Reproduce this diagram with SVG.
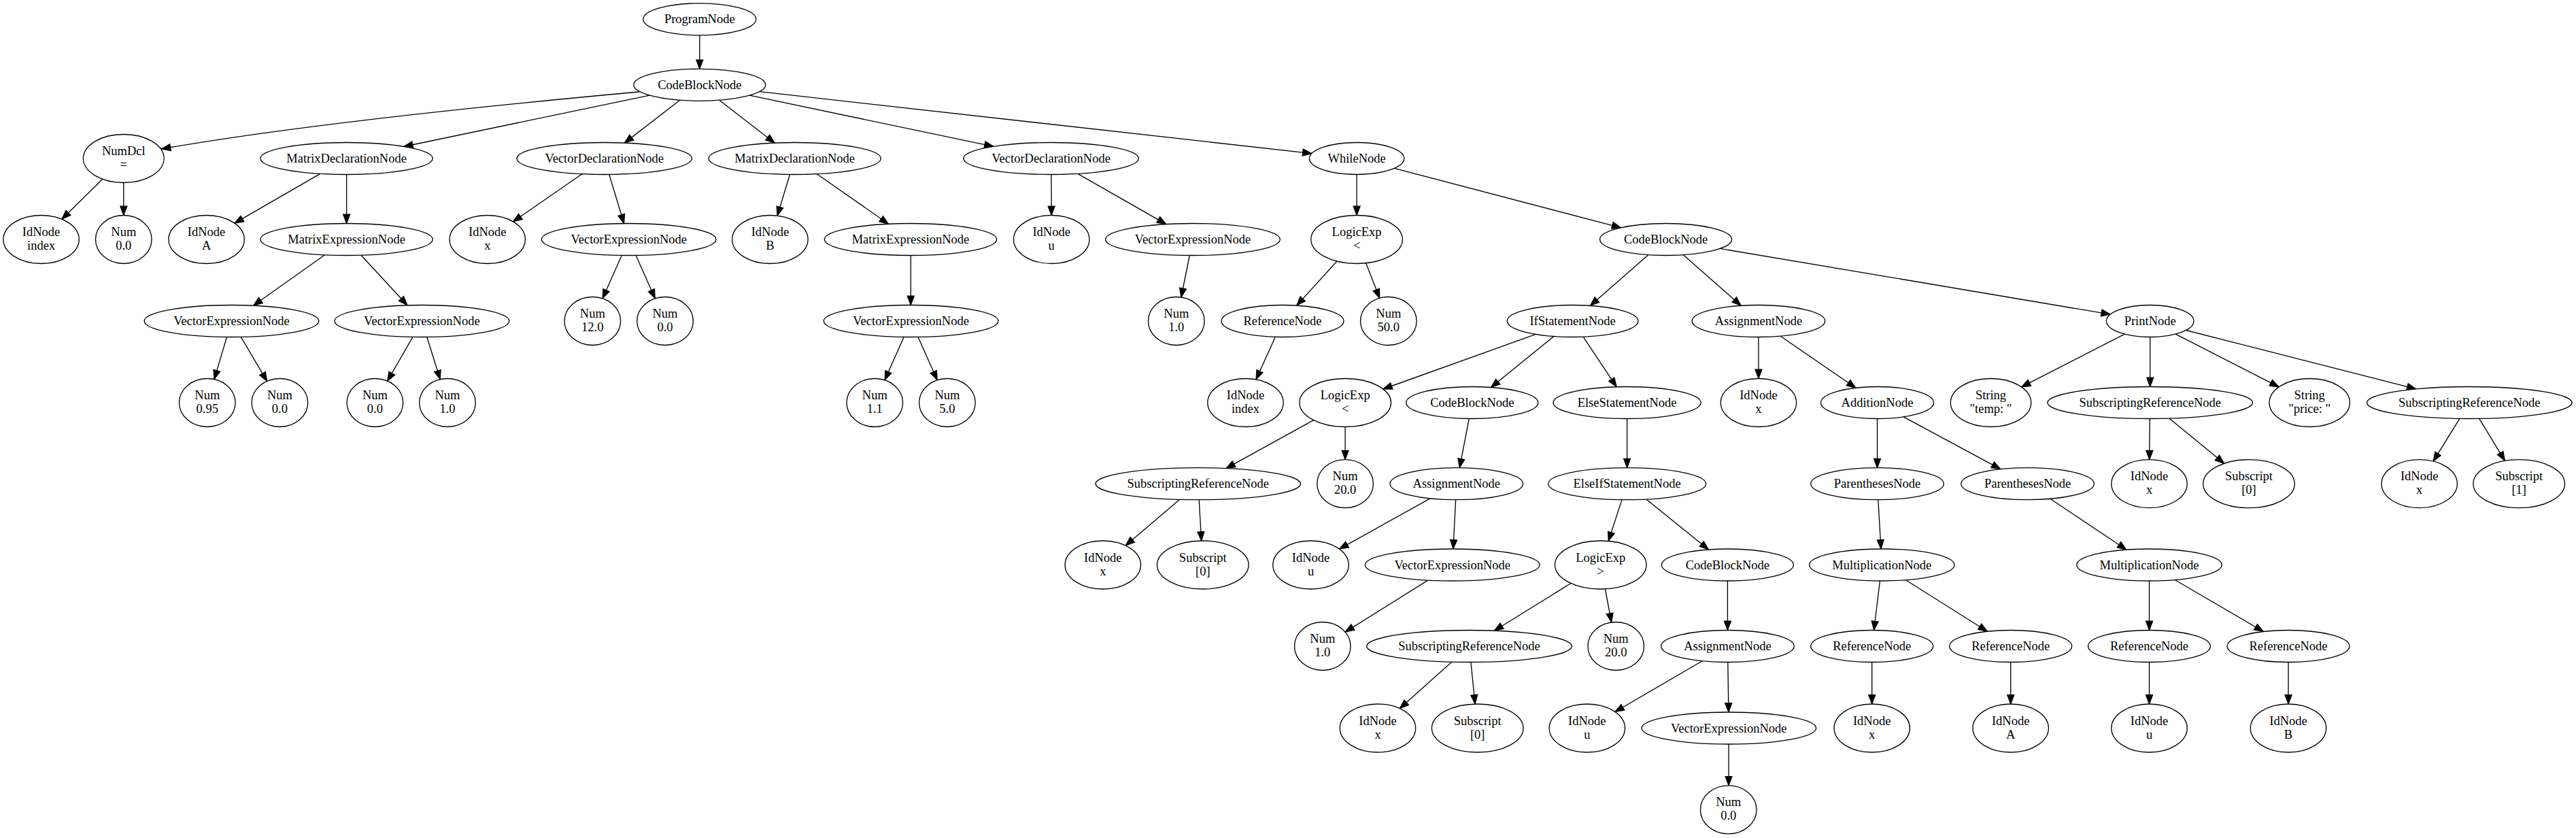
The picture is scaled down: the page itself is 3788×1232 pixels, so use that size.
<svg xmlns="http://www.w3.org/2000/svg" width="3788" height="1232" viewBox="0 0 3788 1232">
<style>
.nd ellipse{fill:#fff;stroke:#000;stroke-width:1.33}
.nd text{font-family:"Liberation Serif","Times New Roman",serif;font-size:18.5px;text-anchor:middle;fill:#000}
#edges path{fill:none;stroke:#000;stroke-width:1.33;marker-end:url(#arr)}
</style>
<defs>
<marker id="arr" markerUnits="userSpaceOnUse" markerWidth="16" markerHeight="12" refX="13.3" refY="5" orient="auto" overflow="visible">
<path d="M0,0 L13.3,5 L0,10 z" fill="#000" stroke="#000" stroke-width="1.2"/>
</marker>
</defs>
<rect width="3788" height="1232" fill="#fff"/>
<g id="edges">
<path d="M1028.8,51.8 L1028.8,101.3"/>
<path d="M940,135 Q470,178 237.5,219"/>
<path d="M955.3,140.1 L593.8,215.5"/>
<path d="M999.8,147.2 L918.3,210.1"/>
<path d="M1057.8,147.2 L1139.2,210.2"/>
<path d="M1102.2,140.2 L1461,215.3"/>
<path d="M1116.9,134.7 L1928.9,225.6"/>
<path d="M150.9,263.3 L90.9,322.2"/>
<path d="M181.8,268.5 L181.8,316.5"/>
<path d="M470.9,255.4 L344.9,328.2"/>
<path d="M509.6,256.5 L509.6,328.5"/>
<path d="M855.9,255.7 L754.5,325.9"/>
<path d="M895.8,256.5 L917.6,328.5"/>
<path d="M1161.5,256.5 L1143,317.2"/>
<path d="M1201.2,255.7 L1306.5,329.3"/>
<path d="M1545.9,256.5 L1546.2,316.5"/>
<path d="M1584.8,255.4 L1714.8,329.6"/>
<path d="M1995.1,256.5 L1995.1,316.5"/>
<path d="M2050.2,247.4 L2383.7,334.8"/>
<path d="M477.6,374.7 L372.6,449.2"/>
<path d="M531,375.2 L599,448.8"/>
<path d="M914.3,375.4 L886.1,438.8"/>
<path d="M935.1,375.4 L963.3,438.8"/>
<path d="M1339.3,375.5 L1339.3,448.5"/>
<path d="M1749.3,375.5 L1736.9,437"/>
<path d="M1966,384 L1906.8,449.1"/>
<path d="M2008.6,386.8 L2028.7,438.3"/>
<path d="M2423.7,374.7 L2338.4,449.4"/>
<path d="M2475.3,374.7 L2560.2,449.3"/>
<path d="M2529.2,365.4 L3103.3,462.2"/>
<path d="M333.5,495.5 L315,557.6"/>
<path d="M354.3,495.4 L392.7,560.4"/>
<path d="M607,495.4 L569.7,560.2"/>
<path d="M627.8,495.5 L647.3,557.7"/>
<path d="M1329.2,495.4 L1301,558.8"/>
<path d="M1350,495.4 L1378.2,558.8"/>
<path d="M1875.4,495.3 L1847,557.9"/>
<path d="M2258.5,491.4 L2033.8,572"/>
<path d="M2284.9,494.5 L2192.5,569.5"/>
<path d="M2328.1,495.2 L2377.1,568.7"/>
<path d="M2585.9,495.5 L2585.9,556.5"/>
<path d="M2618.2,494.2 L2728.9,570.3"/>
<path d="M3124.4,491.1 L2972.5,568.9"/>
<path d="M3161.7,495.5 L3161.7,568.5"/>
<path d="M3199.1,491.1 L3351.1,568.9"/>
<path d="M3214.4,485.5 L3552.8,571.9"/>
<path d="M1931.7,617.6 L1802.9,688.6"/>
<path d="M1978.1,627.5 L1978.1,675.7"/>
<path d="M2160.3,615.5 L2146.3,687.7"/>
<path d="M2392.6,615.5 L2392.6,687.7"/>
<path d="M2760.5,615.5 L2760.5,687.7"/>
<path d="M2799.1,612.8 L2941.8,689.7"/>
<path d="M3161.2,615.5 L3160.7,675.7"/>
<path d="M3189.8,615.1 L3270.6,681.3"/>
<path d="M3616.9,615.4 L3578.1,678.2"/>
<path d="M3645.6,615.4 L3683.5,677.4"/>
<path d="M1734.7,734.3 L1655.2,802.1"/>
<path d="M1763.2,734.7 L1766.7,795.1"/>
<path d="M2103,732.8 L1969.5,807.1"/>
<path d="M2140.6,734.7 L2136.9,807"/>
<path d="M2385,734.6 L2365.2,795.5"/>
<path d="M2420.8,734 L2512.5,808"/>
<path d="M2761.8,734.7 L2766,807"/>
<path d="M3014.8,733.3 L3127,808.2"/>
<path d="M2099.7,853.1 L1978.2,929.1"/>
<path d="M2310.1,857.5 L2197.4,927.2"/>
<path d="M2360.4,865.8 L2369.6,914.9"/>
<path d="M2540.4,854 L2540.4,926.5"/>
<path d="M2764.4,854 L2755.6,926.5"/>
<path d="M2802.5,852.7 L2922.3,928.3"/>
<path d="M3160.5,854 L3160.5,926.5"/>
<path d="M3198.1,852.5 L3328.3,928.5"/>
<path d="M2134.7,973.2 L2058.3,1041.6"/>
<path d="M2162.9,973.5 L2169.1,1035"/>
<path d="M2503.2,971.7 L2374.9,1046.5"/>
<path d="M2540.8,973.5 L2541.9,1047"/>
<path d="M2752.7,973.5 L2752.7,1035"/>
<path d="M2956.7,973.5 L2956.7,1035"/>
<path d="M3160.5,973.5 L3160.5,1035"/>
<path d="M3365,973.5 L3365,1035"/>
<path d="M2542,1094 L2542,1154.9"/>
</g>
<g id="n0" class="nd"><ellipse cx="1028.8" cy="28.3" rx="83" ry="23.5"/><text x="1028.8" y="34.3">ProgramNode</text></g>
<g id="n1" class="nd"><ellipse cx="1028.8" cy="124.8" rx="97" ry="23.5"/><text x="1028.8" y="130.8">CodeBlockNode</text></g>
<g id="n2" class="nd"><ellipse cx="181.8" cy="233" rx="59.4" ry="35.5"/><text x="181.8" y="228">NumDcl</text><text x="181.8" y="248">=</text></g>
<g id="n3" class="nd"><ellipse cx="509.6" cy="233" rx="126.6" ry="23.5"/><text x="509.6" y="239">MatrixDeclarationNode</text></g>
<g id="n4" class="nd"><ellipse cx="888.7" cy="233" rx="128.7" ry="23.5"/><text x="888.7" y="239">VectorDeclarationNode</text></g>
<g id="n5" class="nd"><ellipse cx="1168.7" cy="233" rx="126.6" ry="23.5"/><text x="1168.7" y="239">MatrixDeclarationNode</text></g>
<g id="n6" class="nd"><ellipse cx="1545.6" cy="233" rx="128.7" ry="23.5"/><text x="1545.6" y="239">VectorDeclarationNode</text></g>
<g id="n7" class="nd"><ellipse cx="1995.1" cy="233" rx="69.7" ry="23.5"/><text x="1995.1" y="239">WhileNode</text></g>
<g id="n8" class="nd"><ellipse cx="60.6" cy="352" rx="55.7" ry="35.5"/><text x="60.6" y="347">IdNode</text><text x="60.6" y="367">index</text></g>
<g id="n9" class="nd"><ellipse cx="181.8" cy="352" rx="41.3" ry="35.5"/><text x="181.8" y="347">Num</text><text x="181.8" y="367">0.0</text></g>
<g id="n10" class="nd"><ellipse cx="303.6" cy="352" rx="55.7" ry="35.5"/><text x="303.6" y="347">IdNode</text><text x="303.6" y="367">A</text></g>
<g id="n11" class="nd"><ellipse cx="509.6" cy="352" rx="126.6" ry="23.5"/><text x="509.6" y="358">MatrixExpressionNode</text></g>
<g id="n12" class="nd"><ellipse cx="716.8" cy="352" rx="55.7" ry="35.5"/><text x="716.8" y="347">IdNode</text><text x="716.8" y="367">x</text></g>
<g id="n13" class="nd"><ellipse cx="924.7" cy="352" rx="128.3" ry="23.5"/><text x="924.7" y="358">VectorExpressionNode</text></g>
<g id="n14" class="nd"><ellipse cx="1132.4" cy="352" rx="55.7" ry="35.5"/><text x="1132.4" y="347">IdNode</text><text x="1132.4" y="367">B</text></g>
<g id="n15" class="nd"><ellipse cx="1339" cy="352" rx="126.6" ry="23.5"/><text x="1339" y="358">MatrixExpressionNode</text></g>
<g id="n16" class="nd"><ellipse cx="1546.2" cy="352" rx="55.7" ry="35.5"/><text x="1546.2" y="347">IdNode</text><text x="1546.2" y="367">u</text></g>
<g id="n17" class="nd"><ellipse cx="1754" cy="352" rx="128.3" ry="23.5"/><text x="1754" y="358">VectorExpressionNode</text></g>
<g id="n18" class="nd"><ellipse cx="1995.1" cy="352" rx="67.3" ry="35.5"/><text x="1995.1" y="347">LogicExp</text><text x="1995.1" y="367">&lt;</text></g>
<g id="n19" class="nd"><ellipse cx="2449.6" cy="352" rx="97" ry="23.5"/><text x="2449.6" y="358">CodeBlockNode</text></g>
<g id="n20" class="nd"><ellipse cx="340.5" cy="472" rx="128.3" ry="23.5"/><text x="340.5" y="478">VectorExpressionNode</text></g>
<g id="n21" class="nd"><ellipse cx="620.4" cy="472" rx="128.3" ry="23.5"/><text x="620.4" y="478">VectorExpressionNode</text></g>
<g id="n22" class="nd"><ellipse cx="871.3" cy="472" rx="41.3" ry="35.5"/><text x="871.3" y="467">Num</text><text x="871.3" y="487">12.0</text></g>
<g id="n23" class="nd"><ellipse cx="978" cy="472" rx="41.3" ry="35.5"/><text x="978" y="467">Num</text><text x="978" y="487">0.0</text></g>
<g id="n24" class="nd"><ellipse cx="1339.6" cy="472" rx="128.3" ry="23.5"/><text x="1339.6" y="478">VectorExpressionNode</text></g>
<g id="n25" class="nd"><ellipse cx="1729.8" cy="472" rx="41.3" ry="35.5"/><text x="1729.8" y="467">Num</text><text x="1729.8" y="487">1.0</text></g>
<g id="n26" class="nd"><ellipse cx="1886" cy="472" rx="90" ry="23.5"/><text x="1886" y="478">ReferenceNode</text></g>
<g id="n27" class="nd"><ellipse cx="2041.8" cy="472" rx="41.3" ry="35.5"/><text x="2041.8" y="467">Num</text><text x="2041.8" y="487">50.0</text></g>
<g id="n28" class="nd"><ellipse cx="2312.6" cy="472" rx="96.3" ry="23.5"/><text x="2312.6" y="478">IfStatementNode</text></g>
<g id="n29" class="nd"><ellipse cx="2585.9" cy="472" rx="97.8" ry="23.5"/><text x="2585.9" y="478">AssignmentNode</text></g>
<g id="n30" class="nd"><ellipse cx="3161.7" cy="472" rx="64.3" ry="23.5"/><text x="3161.7" y="478">PrintNode</text></g>
<g id="n31" class="nd"><ellipse cx="304.8" cy="592" rx="41.3" ry="35.5"/><text x="304.8" y="587">Num</text><text x="304.8" y="607">0.95</text></g>
<g id="n32" class="nd"><ellipse cx="411.4" cy="592" rx="41.3" ry="35.5"/><text x="411.4" y="587">Num</text><text x="411.4" y="607">0.0</text></g>
<g id="n33" class="nd"><ellipse cx="551.4" cy="592" rx="41.3" ry="35.5"/><text x="551.4" y="587">Num</text><text x="551.4" y="607">0.0</text></g>
<g id="n34" class="nd"><ellipse cx="658" cy="592" rx="41.3" ry="35.5"/><text x="658" y="587">Num</text><text x="658" y="607">1.0</text></g>
<g id="n35" class="nd"><ellipse cx="1286.3" cy="592" rx="41.3" ry="35.5"/><text x="1286.3" y="587">Num</text><text x="1286.3" y="607">1.1</text></g>
<g id="n36" class="nd"><ellipse cx="1392.9" cy="592" rx="41.3" ry="35.5"/><text x="1392.9" y="587">Num</text><text x="1392.9" y="607">5.0</text></g>
<g id="n37" class="nd"><ellipse cx="1831.5" cy="592" rx="55.7" ry="35.5"/><text x="1831.5" y="587">IdNode</text><text x="1831.5" y="607">index</text></g>
<g id="n38" class="nd"><ellipse cx="1978.2" cy="592" rx="67.3" ry="35.5"/><text x="1978.2" y="587">LogicExp</text><text x="1978.2" y="607">&lt;</text></g>
<g id="n39" class="nd"><ellipse cx="2164.8" cy="592" rx="97" ry="23.5"/><text x="2164.8" y="598">CodeBlockNode</text></g>
<g id="n40" class="nd"><ellipse cx="2392.6" cy="592" rx="108.5" ry="23.5"/><text x="2392.6" y="598">ElseStatementNode</text></g>
<g id="n41" class="nd"><ellipse cx="2585.9" cy="592" rx="55.7" ry="35.5"/><text x="2585.9" y="587">IdNode</text><text x="2585.9" y="607">x</text></g>
<g id="n42" class="nd"><ellipse cx="2760.5" cy="592" rx="83" ry="23.5"/><text x="2760.5" y="598">AdditionNode</text></g>
<g id="n43" class="nd"><ellipse cx="2927.5" cy="592" rx="59.2" ry="35.5"/><text x="2927.5" y="587">String</text><text x="2927.5" y="607">"temp: "</text></g>
<g id="n44" class="nd"><ellipse cx="3161.7" cy="592" rx="150.8" ry="23.5"/><text x="3161.7" y="598">SubscriptingReferenceNode</text></g>
<g id="n45" class="nd"><ellipse cx="3396.2" cy="592" rx="59.2" ry="35.5"/><text x="3396.2" y="587">String</text><text x="3396.2" y="607">"price: "</text></g>
<g id="n46" class="nd"><ellipse cx="3631.3" cy="592" rx="150.8" ry="23.5"/><text x="3631.3" y="598">SubscriptingReferenceNode</text></g>
<g id="n47" class="nd"><ellipse cx="1761.8" cy="711.2" rx="150.8" ry="23.5"/><text x="1761.8" y="717.2">SubscriptingReferenceNode</text></g>
<g id="n48" class="nd"><ellipse cx="1978.1" cy="711.2" rx="41.3" ry="35.5"/><text x="1978.1" y="706.2">Num</text><text x="1978.1" y="726.2">20.0</text></g>
<g id="n49" class="nd"><ellipse cx="2141.8" cy="711.2" rx="97.8" ry="23.5"/><text x="2141.8" y="717.2">AssignmentNode</text></g>
<g id="n50" class="nd"><ellipse cx="2392.6" cy="711.2" rx="116" ry="23.5"/><text x="2392.6" y="717.2">ElseIfStatementNode</text></g>
<g id="n51" class="nd"><ellipse cx="2760.5" cy="711.2" rx="97.8" ry="23.5"/><text x="2760.5" y="717.2">ParenthesesNode</text></g>
<g id="n52" class="nd"><ellipse cx="2981.6" cy="711.2" rx="97.8" ry="23.5"/><text x="2981.6" y="717.2">ParenthesesNode</text></g>
<g id="n53" class="nd"><ellipse cx="3160.5" cy="711.2" rx="55.7" ry="35.5"/><text x="3160.5" y="706.2">IdNode</text><text x="3160.5" y="726.2">x</text></g>
<g id="n54" class="nd"><ellipse cx="3307" cy="711.2" rx="67.3" ry="35.5"/><text x="3307" y="706.2">Subscript</text><text x="3307" y="726.2">[0]</text></g>
<g id="n55" class="nd"><ellipse cx="3557.7" cy="711.2" rx="55.7" ry="35.5"/><text x="3557.7" y="706.2">IdNode</text><text x="3557.7" y="726.2">x</text></g>
<g id="n56" class="nd"><ellipse cx="3704.2" cy="711.2" rx="67.3" ry="35.5"/><text x="3704.2" y="706.2">Subscript</text><text x="3704.2" y="726.2">[1]</text></g>
<g id="n57" class="nd"><ellipse cx="1621.8" cy="830.5" rx="55.7" ry="35.5"/><text x="1621.8" y="825.5">IdNode</text><text x="1621.8" y="845.5">x</text></g>
<g id="n58" class="nd"><ellipse cx="1768.8" cy="830.5" rx="67.3" ry="35.5"/><text x="1768.8" y="825.5">Subscript</text><text x="1768.8" y="845.5">[0]</text></g>
<g id="n59" class="nd"><ellipse cx="1927.5" cy="830.5" rx="55.7" ry="35.5"/><text x="1927.5" y="825.5">IdNode</text><text x="1927.5" y="845.5">u</text></g>
<g id="n60" class="nd"><ellipse cx="2135.7" cy="830.5" rx="128.3" ry="23.5"/><text x="2135.7" y="836.5">VectorExpressionNode</text></g>
<g id="n61" class="nd"><ellipse cx="2353.8" cy="830.5" rx="67.3" ry="35.5"/><text x="2353.8" y="825.5">LogicExp</text><text x="2353.8" y="845.5">&gt;</text></g>
<g id="n62" class="nd"><ellipse cx="2540.4" cy="830.5" rx="97" ry="23.5"/><text x="2540.4" y="836.5">CodeBlockNode</text></g>
<g id="n63" class="nd"><ellipse cx="2767.3" cy="830.5" rx="106.7" ry="23.5"/><text x="2767.3" y="836.5">MultiplicationNode</text></g>
<g id="n64" class="nd"><ellipse cx="3160.5" cy="830.5" rx="106.7" ry="23.5"/><text x="3160.5" y="836.5">MultiplicationNode</text></g>
<g id="n65" class="nd"><ellipse cx="1944.8" cy="950" rx="41.3" ry="35.5"/><text x="1944.8" y="945">Num</text><text x="1944.8" y="965">1.0</text></g>
<g id="n66" class="nd"><ellipse cx="2160.5" cy="950" rx="150.8" ry="23.5"/><text x="2160.5" y="956">SubscriptingReferenceNode</text></g>
<g id="n67" class="nd"><ellipse cx="2376.2" cy="950" rx="41.3" ry="35.5"/><text x="2376.2" y="945">Num</text><text x="2376.2" y="965">20.0</text></g>
<g id="n68" class="nd"><ellipse cx="2540.4" cy="950" rx="97.8" ry="23.5"/><text x="2540.4" y="956">AssignmentNode</text></g>
<g id="n69" class="nd"><ellipse cx="2752.7" cy="950" rx="90" ry="23.5"/><text x="2752.7" y="956">ReferenceNode</text></g>
<g id="n70" class="nd"><ellipse cx="2956.7" cy="950" rx="90" ry="23.5"/><text x="2956.7" y="956">ReferenceNode</text></g>
<g id="n71" class="nd"><ellipse cx="3160.5" cy="950" rx="90" ry="23.5"/><text x="3160.5" y="956">ReferenceNode</text></g>
<g id="n72" class="nd"><ellipse cx="3365" cy="950" rx="90" ry="23.5"/><text x="3365" y="956">ReferenceNode</text></g>
<g id="n73" class="nd"><ellipse cx="2026" cy="1070.5" rx="55.7" ry="35.5"/><text x="2026" y="1065.5">IdNode</text><text x="2026" y="1085.5">x</text></g>
<g id="n74" class="nd"><ellipse cx="2172.7" cy="1070.5" rx="67.3" ry="35.5"/><text x="2172.7" y="1065.5">Subscript</text><text x="2172.7" y="1085.5">[0]</text></g>
<g id="n75" class="nd"><ellipse cx="2333.8" cy="1070.5" rx="55.7" ry="35.5"/><text x="2333.8" y="1065.5">IdNode</text><text x="2333.8" y="1085.5">u</text></g>
<g id="n76" class="nd"><ellipse cx="2542.3" cy="1070.5" rx="128.3" ry="23.5"/><text x="2542.3" y="1076.5">VectorExpressionNode</text></g>
<g id="n77" class="nd"><ellipse cx="2752.7" cy="1070.5" rx="55.7" ry="35.5"/><text x="2752.7" y="1065.5">IdNode</text><text x="2752.7" y="1085.5">x</text></g>
<g id="n78" class="nd"><ellipse cx="2956.7" cy="1070.5" rx="55.7" ry="35.5"/><text x="2956.7" y="1065.5">IdNode</text><text x="2956.7" y="1085.5">A</text></g>
<g id="n79" class="nd"><ellipse cx="3160.5" cy="1070.5" rx="55.7" ry="35.5"/><text x="3160.5" y="1065.5">IdNode</text><text x="3160.5" y="1085.5">u</text></g>
<g id="n80" class="nd"><ellipse cx="3365" cy="1070.5" rx="55.7" ry="35.5"/><text x="3365" y="1065.5">IdNode</text><text x="3365" y="1085.5">B</text></g>
<g id="n81" class="nd"><ellipse cx="2541.7" cy="1190.4" rx="41.3" ry="35.5"/><text x="2541.7" y="1185.4">Num</text><text x="2541.7" y="1205.4">0.0</text></g>
</svg>
